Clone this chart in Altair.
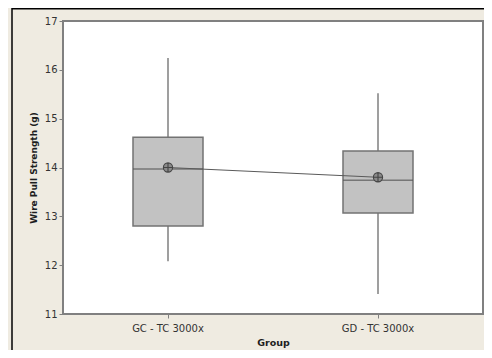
import altair as alt
import pandas as pd

groups = ["GC - TC 3000x", "GD - TC 3000x"]
whisker_low = [12.08, 11.41]
q1 = [12.80, 13.07]
median = [13.97, 13.74]
q3 = [14.62, 14.34]
whisker_high = [16.24, 15.52]
mean = [14.00, 13.80]

df = pd.DataFrame({
    "group": groups,
    "lo": whisker_low,
    "q1": q1,
    "med": median,
    "q3": q3,
    "hi": whisker_high,
    "mean": mean,
})

FONT = "DejaVu Sans"

x = alt.X(
    "group:N",
    sort=groups,
    scale=alt.Scale(paddingInner=0, paddingOuter=0),
    axis=alt.Axis(
        title="Group", labelAngle=0, domain=False, tickSize=4, tickColor="#808080",
        labelPadding=5, titlePadding=4, labelFont=FONT, labelFontSize=10,
        labelColor="#333333", titleFont=FONT, titleFontSize=9.5, titleFontWeight="bold",
        titleColor="#1e1e1e",
    ),
)
yscale = alt.Scale(domain=[11, 17], nice=False, zero=False)
yaxis = alt.Axis(
    title="Wire Pull Strength (g)", values=[11, 12, 13, 14, 15, 16, 17], grid=False,
    domain=False, tickSize=4, tickColor="#808080", labelPadding=2, titlePadding=6,
    labelFont=FONT, labelFontSize=10, labelColor="#333333", titleFont=FONT,
    titleFontSize=9, titleFontWeight="bold", titleColor="#1e1e1e",
)

base = alt.Chart(df)

whisk = base.mark_rule(color="#7f7f7f", strokeWidth=1.5).encode(
    x=x, y=alt.Y("lo:Q", scale=yscale, axis=yaxis), y2="hi:Q"
)
box = base.mark_bar(size=70, fill="#c2c2c2", stroke="#737373", strokeWidth=1.5).encode(
    x=x, y=alt.Y("q1:Q", scale=yscale), y2="q3:Q"
)
med = base.mark_tick(size=70, thickness=1.5, color="#555555").encode(
    x=x, y=alt.Y("med:Q", scale=yscale)
)
mline = base.mark_line(color="#5a5a5a", strokeWidth=1).encode(
    x=x, y=alt.Y("mean:Q", scale=yscale)
)
mpt = base.mark_point(
    shape="M -1 0 A 1 1 0 1 0 1 0 A 1 1 0 1 0 -1 0 M -1 0 L 1 0 M 0 -1 L 0 1",
    size=85, filled=True, fill="#8a8a8a", stroke="#444444", strokeWidth=1.1, opacity=1,
).encode(x=x, y=alt.Y("mean:Q", scale=yscale))

frame_data = alt.Data(values=[{"k": 1}])
frame_left = alt.Chart(frame_data).mark_rule(color="#000000", strokeWidth=1.5).encode(
    x=alt.value(-51), y=alt.value(-13), y2=alt.value(330)
)
frame_top = alt.Chart(frame_data).mark_rule(color="#000000", strokeWidth=1.5).encode(
    x=alt.value(-51), x2=alt.value(425), y=alt.value(-12.2)
)

chart = alt.layer(whisk, box, med, mline, mpt, frame_left, frame_top).properties(
    width=420, height=293,
    padding={"left": 55, "top": 13, "right": 1, "bottom": 36},
    autosize=alt.AutoSizeParams(type="none"),
    background="#EFEBE1",
).configure_view(
    fill="#ffffff", stroke="#808080", strokeWidth=2
)

chart.save("out.html", embed_options={"renderer": "svg", "actions": False})
